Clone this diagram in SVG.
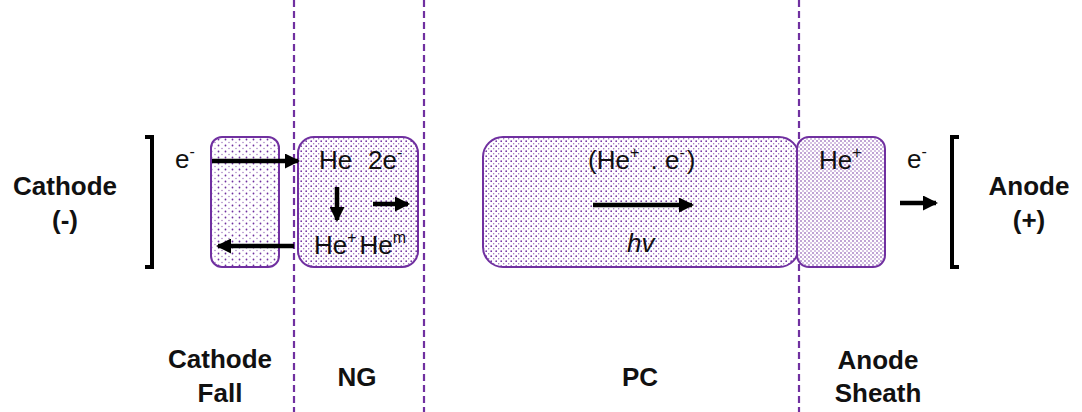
<svg xmlns="http://www.w3.org/2000/svg" width="1082" height="412" viewBox="0 0 1082 412">
<style>
.t{font-family:"Liberation Sans",Arial,sans-serif;font-size:26px;fill:#111}
.b{font-family:"Liberation Sans",Arial,sans-serif;font-size:26px;font-weight:bold;fill:#111;text-anchor:middle}
.sup{font-size:16px}
.box{stroke:#7030A0;stroke-width:2}
.div{stroke:#7030A0;stroke-width:2.2;stroke-dasharray:7,4}
.arr{stroke:#000;stroke-width:4.5;marker-end:url(#ah)}
.br{stroke:#000;stroke-width:4;fill:none}
</style>
<defs>
<marker id="ah" markerUnits="userSpaceOnUse" markerWidth="15" markerHeight="15" viewBox="0 0 15 15" refX="13" refY="7.5" orient="auto">
<path d="M0,0 L15,7.5 L0,15 Z" fill="#000"/>
</marker>
<pattern id="p1" width="7" height="6" patternUnits="userSpaceOnUse">
<rect width="7" height="6" fill="#fff"/>
<circle cx="1.5" cy="1.5" r="0.9" fill="#7030A0"/>
<circle cx="5" cy="4.5" r="0.7" fill="#7030A0" opacity="0.7"/>
</pattern>
<pattern id="p2" width="5" height="5" patternUnits="userSpaceOnUse">
<rect width="5" height="5" fill="#fff"/>
<circle cx="1.2" cy="1.2" r="0.85" fill="#7030A0"/>
<circle cx="3.7" cy="3.7" r="0.7" fill="#7030A0" opacity="0.75"/>
</pattern>
<pattern id="p3" width="4" height="4" patternUnits="userSpaceOnUse">
<rect width="4" height="4" fill="#fff"/>
<circle cx="1" cy="1" r="0.8" fill="#7030A0"/>
<circle cx="3" cy="3" r="0.7" fill="#7030A0" opacity="0.8"/>
</pattern>
</defs>
<g id="dividers">
<line class="div" x1="294" y1="0" x2="294" y2="412"/>
<line class="div" x1="424" y1="0" x2="424" y2="412"/>
<line class="div" x1="799" y1="0" x2="799" y2="412"/>
</g>
<g id="cathode">
<path class="br" d="M145,137 H152 V267 H145"/>
<text class="b" x="65" y="195">Cathode</text>
<text class="b" x="65" y="229">(-)</text>
</g>
<g id="anode">
<path class="br" d="M959,137 H952 V267 H959"/>
<text class="b" x="1029" y="195">Anode</text>
<text class="b" x="1029" y="229">(+)</text>
</g>
<g id="cathode-fall">
<rect class="box" x="211" y="137" width="68" height="130" rx="11" fill="url(#p1)"/>
<text class="t" x="175" y="168">e<tspan class="sup" dy="-11">-</tspan></text>
</g>
<g id="ng">
<rect class="box" x="298" y="137" width="120" height="130" rx="16" fill="url(#p2)"/>
<text class="t" x="319" y="169">He</text>
<text class="t" x="368" y="169">2e<tspan class="sup" dy="-11">-</tspan></text>
<text class="t" x="314" y="254">He<tspan class="sup" dy="-11">+</tspan><tspan dx="3" dy="11">He</tspan><tspan class="sup" dy="-11">m</tspan></text>
</g>
<g id="pc">
<rect class="box" x="483" y="137" width="316" height="130" rx="20" fill="url(#p2)"/>
<text class="t" x="588" y="169">(He<tspan class="sup" dy="-11">+</tspan><tspan dx="4" dy="11"> . e</tspan><tspan class="sup" dy="-11">-</tspan><tspan dx="2" dy="11">)</tspan></text>
<text class="t" x="627" y="252" font-style="italic">hv</text>
</g>
<g id="anode-sheath">
<rect class="box" x="797" y="137" width="88" height="130" rx="12" fill="url(#p3)"/>
<text class="t" x="819" y="169">He<tspan class="sup" dy="-11">+</tspan></text>
<text class="t" x="907" y="168">e<tspan class="sup" dy="-11">-</tspan></text>
</g>
<g id="connectors">
<line class="arr" x1="212" y1="161" x2="298" y2="161"/>
<line class="arr" x1="294" y1="246" x2="218" y2="246"/>
<line class="arr" x1="337" y1="187" x2="337" y2="220"/>
<line class="arr" x1="373" y1="204" x2="408" y2="204"/>
<line class="arr" x1="593" y1="205" x2="692" y2="205"/>
<line class="arr" x1="900" y1="203" x2="936" y2="203"/>
</g>
<g id="labels">
<text class="b" x="220" y="368">Cathode</text>
<text class="b" x="220" y="402">Fall</text>
<text class="b" x="357" y="386">NG</text>
<text class="b" x="640" y="386">PC</text>
<text class="b" x="878" y="369">Anode</text>
<text class="b" x="878" y="402">Sheath</text>
</g>
</svg>
